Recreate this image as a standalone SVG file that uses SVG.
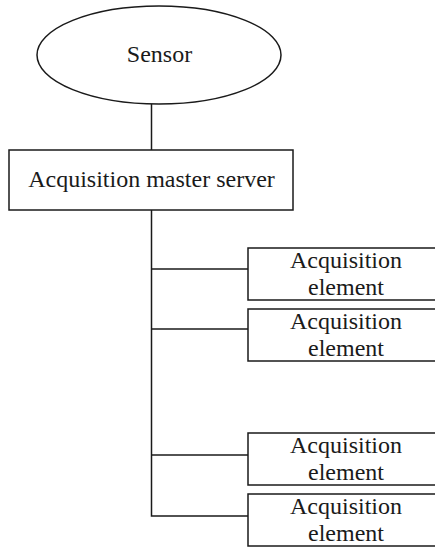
<svg xmlns="http://www.w3.org/2000/svg" width="435" height="548" viewBox="0 0 435 548">
<style>
.shape{fill:#fff;stroke:#1a1a1a;stroke-width:1.5}
.conn{fill:none;stroke:#1a1a1a;stroke-width:1.5}
text{font-family:"Liberation Serif","Times New Roman",serif;font-size:24px;fill:#1a1a1a;text-anchor:middle}
</style>
<rect width="435" height="548" fill="#fff"/>
<g id="connectors">
<line class="conn" x1="151.5" y1="104" x2="151.5" y2="150"/>
<polyline class="conn" points="151.5,210 151.5,516 248,516"/>
<line class="conn" x1="151.5" y1="269" x2="248" y2="269"/>
<line class="conn" x1="151.5" y1="329" x2="248" y2="329"/>
<line class="conn" x1="151.5" y1="455" x2="248" y2="455"/>
</g>
<g id="sensor">
<ellipse class="shape" cx="159" cy="55" rx="122" ry="49"/>
<text x="159.5" y="62">Sensor</text>
</g>
<g id="master">
<rect class="shape" x="9" y="150" width="284" height="60"/>
<text x="151.5" y="187">Acquisition master server</text>
</g>
<g id="element1">
<rect class="shape" x="248" y="248" width="196" height="52"/>
<text x="346" y="268">Acquisition</text>
<text x="346" y="295">element</text>
</g>
<g id="element2">
<rect class="shape" x="248" y="309" width="196" height="52"/>
<text x="346" y="329">Acquisition</text>
<text x="346" y="356">element</text>
</g>
<g id="element3">
<rect class="shape" x="248" y="433" width="196" height="52"/>
<text x="346" y="453">Acquisition</text>
<text x="346" y="480">element</text>
</g>
<g id="element4">
<rect class="shape" x="248" y="494" width="196" height="52"/>
<text x="346" y="514">Acquisition</text>
<text x="346" y="541">element</text>
</g>
</svg>
